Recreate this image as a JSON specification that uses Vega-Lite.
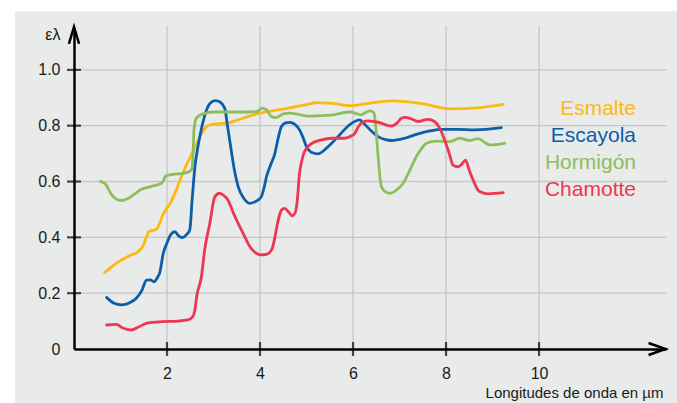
{
  "$schema": "https://vega.github.io/schema/vega-lite/v6.json",
  "width": 592,
  "height": 321,
  "autosize": {"type": "none"},
  "padding": {"left": 74, "top": 28, "right": 11, "bottom": 54},
  "background": "white",
  "config": {
    "view": {"stroke": null},
    "font": "Liberation Sans",
    "axis": {"labelFont": "Liberation Sans", "titleFont": "Liberation Sans"}
  },
  "datasets": {
    "one": [{}],
    "curves": [
      {"series":"Esmalte","x":0.66,"y":0.274},{"series":"Esmalte","x":0.85,"y":0.30},{"series":"Esmalte","x":1.02,"y":0.319},{"series":"Esmalte","x":1.20,"y":0.335},{"series":"Esmalte","x":1.38,"y":0.349},{"series":"Esmalte","x":1.50,"y":0.375},{"series":"Esmalte","x":1.56,"y":0.403},{"series":"Esmalte","x":1.61,"y":0.42},{"series":"Esmalte","x":1.70,"y":0.425},{"series":"Esmalte","x":1.77,"y":0.429},{"series":"Esmalte","x":1.84,"y":0.45},{"series":"Esmalte","x":1.91,"y":0.48},{"series":"Esmalte","x":2.09,"y":0.528},{"series":"Esmalte","x":2.20,"y":0.57},{"series":"Esmalte","x":2.31,"y":0.618},{"series":"Esmalte","x":2.42,"y":0.66},{"series":"Esmalte","x":2.52,"y":0.695},{"series":"Esmalte","x":2.65,"y":0.74},{"series":"Esmalte","x":2.77,"y":0.779},{"series":"Esmalte","x":2.88,"y":0.80},{"series":"Esmalte","x":2.99,"y":0.806},{"series":"Esmalte","x":3.28,"y":0.809},{"series":"Esmalte","x":3.60,"y":0.825},{"series":"Esmalte","x":3.99,"y":0.845},{"series":"Esmalte","x":4.49,"y":0.859},{"series":"Esmalte","x":5.07,"y":0.878},{"series":"Esmalte","x":5.21,"y":0.883},{"series":"Esmalte","x":5.55,"y":0.880},{"series":"Esmalte","x":5.93,"y":0.872},{"series":"Esmalte","x":6.40,"y":0.882},{"series":"Esmalte","x":6.86,"y":0.889},{"series":"Esmalte","x":7.51,"y":0.878},{"series":"Esmalte","x":8.08,"y":0.860},{"series":"Esmalte","x":8.80,"y":0.866},{"series":"Esmalte","x":9.23,"y":0.876},
      {"series":"Escayola","x":0.70,"y":0.185},{"series":"Escayola","x":0.85,"y":0.165},{"series":"Escayola","x":1.02,"y":0.158},{"series":"Escayola","x":1.20,"y":0.166},{"series":"Escayola","x":1.34,"y":0.182},{"series":"Escayola","x":1.46,"y":0.21},{"series":"Escayola","x":1.56,"y":0.247},{"series":"Escayola","x":1.64,"y":0.248},{"series":"Escayola","x":1.72,"y":0.241},{"series":"Escayola","x":1.80,"y":0.258},{"series":"Escayola","x":1.84,"y":0.271},{"series":"Escayola","x":1.92,"y":0.343},{"series":"Escayola","x":2.00,"y":0.38},{"series":"Escayola","x":2.08,"y":0.41},{"series":"Escayola","x":2.17,"y":0.42},{"series":"Escayola","x":2.25,"y":0.405},{"series":"Escayola","x":2.32,"y":0.399},{"series":"Escayola","x":2.42,"y":0.41},{"series":"Escayola","x":2.49,"y":0.427},{"series":"Escayola","x":2.54,"y":0.534},{"series":"Escayola","x":2.60,"y":0.653},{"series":"Escayola","x":2.66,"y":0.72},{"series":"Escayola","x":2.72,"y":0.773},{"series":"Escayola","x":2.80,"y":0.83},{"series":"Escayola","x":2.88,"y":0.868},{"series":"Escayola","x":2.96,"y":0.885},{"series":"Escayola","x":3.04,"y":0.89},{"series":"Escayola","x":3.14,"y":0.885},{"series":"Escayola","x":3.24,"y":0.863},{"series":"Escayola","x":3.30,"y":0.80},{"series":"Escayola","x":3.38,"y":0.713},{"series":"Escayola","x":3.45,"y":0.64},{"series":"Escayola","x":3.53,"y":0.582},{"series":"Escayola","x":3.65,"y":0.54},{"series":"Escayola","x":3.78,"y":0.522},{"series":"Escayola","x":3.92,"y":0.53},{"series":"Escayola","x":4.03,"y":0.546},{"series":"Escayola","x":4.09,"y":0.58},{"series":"Escayola","x":4.14,"y":0.618},{"series":"Escayola","x":4.23,"y":0.66},{"series":"Escayola","x":4.32,"y":0.701},{"series":"Escayola","x":4.39,"y":0.755},{"series":"Escayola","x":4.46,"y":0.797},{"series":"Escayola","x":4.55,"y":0.81},{"series":"Escayola","x":4.64,"y":0.812},{"series":"Escayola","x":4.75,"y":0.805},{"series":"Escayola","x":4.85,"y":0.785},{"series":"Escayola","x":4.92,"y":0.76},{"series":"Escayola","x":5.00,"y":0.725},{"series":"Escayola","x":5.10,"y":0.705},{"series":"Escayola","x":5.25,"y":0.699},{"series":"Escayola","x":5.40,"y":0.715},{"series":"Escayola","x":5.54,"y":0.737},{"series":"Escayola","x":5.70,"y":0.765},{"series":"Escayola","x":5.85,"y":0.792},{"series":"Escayola","x":6.00,"y":0.812},{"series":"Escayola","x":6.14,"y":0.821},{"series":"Escayola","x":6.25,"y":0.805},{"series":"Escayola","x":6.40,"y":0.78},{"series":"Escayola","x":6.54,"y":0.761},{"series":"Escayola","x":6.70,"y":0.75},{"series":"Escayola","x":6.83,"y":0.747},{"series":"Escayola","x":7.11,"y":0.755},{"series":"Escayola","x":7.40,"y":0.771},{"series":"Escayola","x":7.65,"y":0.781},{"series":"Escayola","x":7.90,"y":0.787},{"series":"Escayola","x":8.25,"y":0.787},{"series":"Escayola","x":8.62,"y":0.785},{"series":"Escayola","x":9.19,"y":0.793},
      {"series":"Hormigón","x":0.57,"y":0.600},{"series":"Hormigón","x":0.68,"y":0.59},{"series":"Hormigón","x":0.80,"y":0.555},{"series":"Hormigón","x":0.90,"y":0.538},{"series":"Hormigón","x":1.02,"y":0.532},{"series":"Hormigón","x":1.15,"y":0.538},{"series":"Hormigón","x":1.30,"y":0.555},{"series":"Hormigón","x":1.45,"y":0.572},{"series":"Hormigón","x":1.65,"y":0.582},{"series":"Hormigón","x":1.88,"y":0.594},{"series":"Hormigón","x":1.93,"y":0.605},{"series":"Hormigón","x":1.97,"y":0.620},{"series":"Hormigón","x":2.10,"y":0.625},{"series":"Hormigón","x":2.38,"y":0.630},{"series":"Hormigón","x":2.50,"y":0.638},{"series":"Hormigón","x":2.54,"y":0.648},{"series":"Hormigón","x":2.56,"y":0.70},{"series":"Hormigón","x":2.58,"y":0.785},{"series":"Hormigón","x":2.63,"y":0.827},{"series":"Hormigón","x":2.77,"y":0.842},{"series":"Hormigón","x":3.00,"y":0.849},{"series":"Hormigón","x":3.50,"y":0.849},{"series":"Hormigón","x":3.92,"y":0.850},{"series":"Hormigón","x":4.05,"y":0.863},{"series":"Hormigón","x":4.15,"y":0.855},{"series":"Hormigón","x":4.25,"y":0.832},{"series":"Hormigón","x":4.35,"y":0.829},{"series":"Hormigón","x":4.50,"y":0.842},{"series":"Hormigón","x":4.64,"y":0.845},{"series":"Hormigón","x":5.07,"y":0.834},{"series":"Hormigón","x":5.21,"y":0.835},{"series":"Hormigón","x":5.60,"y":0.840},{"series":"Hormigón","x":5.93,"y":0.849},{"series":"Hormigón","x":6.18,"y":0.839},{"series":"Hormigón","x":6.30,"y":0.85},{"series":"Hormigón","x":6.38,"y":0.853},{"series":"Hormigón","x":6.45,"y":0.845},{"series":"Hormigón","x":6.50,"y":0.773},{"series":"Hormigón","x":6.54,"y":0.689},{"series":"Hormigón","x":6.61,"y":0.582},{"series":"Hormigón","x":6.70,"y":0.563},{"series":"Hormigón","x":6.80,"y":0.558},{"series":"Hormigón","x":6.95,"y":0.572},{"series":"Hormigón","x":7.08,"y":0.594},{"series":"Hormigón","x":7.22,"y":0.64},{"series":"Hormigón","x":7.36,"y":0.689},{"series":"Hormigón","x":7.48,"y":0.72},{"series":"Hormigón","x":7.58,"y":0.737},{"series":"Hormigón","x":7.79,"y":0.745},{"series":"Hormigón","x":8.08,"y":0.743},{"series":"Hormigón","x":8.29,"y":0.755},{"series":"Hormigón","x":8.51,"y":0.747},{"series":"Hormigón","x":8.69,"y":0.754},{"series":"Hormigón","x":8.85,"y":0.738},{"series":"Hormigón","x":8.94,"y":0.731},{"series":"Hormigón","x":9.26,"y":0.737},
      {"series":"Chamotte","x":0.70,"y":0.086},{"series":"Chamotte","x":0.91,"y":0.088},{"series":"Chamotte","x":1.05,"y":0.075},{"series":"Chamotte","x":1.23,"y":0.068},{"series":"Chamotte","x":1.40,"y":0.080},{"series":"Chamotte","x":1.59,"y":0.094},{"series":"Chamotte","x":1.90,"y":0.098},{"series":"Chamotte","x":2.24,"y":0.10},{"series":"Chamotte","x":2.45,"y":0.104},{"series":"Chamotte","x":2.55,"y":0.115},{"series":"Chamotte","x":2.60,"y":0.14},{"series":"Chamotte","x":2.64,"y":0.19},{"series":"Chamotte","x":2.74,"y":0.259},{"series":"Chamotte","x":2.81,"y":0.355},{"series":"Chamotte","x":2.92,"y":0.45},{"series":"Chamotte","x":3.03,"y":0.546},{"series":"Chamotte","x":3.13,"y":0.558},{"series":"Chamotte","x":3.22,"y":0.55},{"series":"Chamotte","x":3.31,"y":0.534},{"series":"Chamotte","x":3.42,"y":0.49},{"series":"Chamotte","x":3.53,"y":0.45},{"series":"Chamotte","x":3.65,"y":0.41},{"series":"Chamotte","x":3.78,"y":0.367},{"series":"Chamotte","x":3.90,"y":0.345},{"series":"Chamotte","x":4.03,"y":0.337},{"series":"Chamotte","x":4.15,"y":0.34},{"series":"Chamotte","x":4.25,"y":0.355},{"series":"Chamotte","x":4.32,"y":0.40},{"series":"Chamotte","x":4.35,"y":0.427},{"series":"Chamotte","x":4.42,"y":0.48},{"series":"Chamotte","x":4.46,"y":0.498},{"series":"Chamotte","x":4.53,"y":0.504},{"series":"Chamotte","x":4.62,"y":0.49},{"series":"Chamotte","x":4.69,"y":0.477},{"series":"Chamotte","x":4.76,"y":0.49},{"series":"Chamotte","x":4.80,"y":0.53},{"series":"Chamotte","x":4.85,"y":0.63},{"series":"Chamotte","x":4.89,"y":0.668},{"series":"Chamotte","x":4.95,"y":0.705},{"series":"Chamotte","x":5.00,"y":0.719},{"series":"Chamotte","x":5.10,"y":0.735},{"series":"Chamotte","x":5.32,"y":0.749},{"series":"Chamotte","x":5.55,"y":0.755},{"series":"Chamotte","x":5.82,"y":0.755},{"series":"Chamotte","x":5.95,"y":0.762},{"series":"Chamotte","x":6.04,"y":0.773},{"series":"Chamotte","x":6.12,"y":0.798},{"series":"Chamotte","x":6.18,"y":0.809},{"series":"Chamotte","x":6.32,"y":0.817},{"series":"Chamotte","x":6.45,"y":0.815},{"series":"Chamotte","x":6.61,"y":0.809},{"series":"Chamotte","x":6.75,"y":0.80},{"series":"Chamotte","x":6.83,"y":0.799},{"series":"Chamotte","x":6.95,"y":0.81},{"series":"Chamotte","x":7.04,"y":0.827},{"series":"Chamotte","x":7.12,"y":0.83},{"series":"Chamotte","x":7.25,"y":0.825},{"series":"Chamotte","x":7.40,"y":0.815},{"series":"Chamotte","x":7.61,"y":0.823},{"series":"Chamotte","x":7.75,"y":0.815},{"series":"Chamotte","x":7.85,"y":0.795},{"series":"Chamotte","x":7.97,"y":0.749},{"series":"Chamotte","x":8.07,"y":0.70},{"series":"Chamotte","x":8.15,"y":0.659},{"series":"Chamotte","x":8.26,"y":0.653},{"series":"Chamotte","x":8.34,"y":0.662},{"series":"Chamotte","x":8.42,"y":0.677},{"series":"Chamotte","x":8.50,"y":0.64},{"series":"Chamotte","x":8.58,"y":0.606},{"series":"Chamotte","x":8.72,"y":0.564},{"series":"Chamotte","x":8.90,"y":0.556},{"series":"Chamotte","x":9.23,"y":0.560}
    ],
    "xgrid": [{"v":2},{"v":4},{"v":6},{"v":8},{"v":10}],
    "ygrid": [{"v":0.2},{"v":0.4},{"v":0.6},{"v":0.8},{"v":1.0}]
  },
  "layer": [
    {
      "data": {"name": "one"},
      "mark": {"type": "rect", "color": "#e9eaea"},
      "encoding": {
        "x": {
          "datum": -1.27, "type": "quantitative", "scale": {"domain": [0, 12.73], "nice": false, "zero": false},
          "axis": {
            "values": [2, 4, 6, 8, 10], "grid": false, "ticks": false, "zindex": 1,
            "domainColor": "black", "domainWidth": 2.5,
            "labelFontSize": 16, "labelColor": "#1a1a1a", "labelPadding": 16, "labelFlush": false,
            "title": "Longitudes de onda en µm", "titleFontSize": 15, "titleFontWeight": "normal", "titleColor": "#1a1a1a",
            "titleAlign": "right", "titleBaseline": "alphabetic", "titleX": 589, "titleY": 48
          }
        },
        "x2": {"datum": 13.2},
        "y": {
          "datum": -0.2, "type": "quantitative", "scale": {"domain": [0, 1.15], "nice": false, "zero": false},
          "axis": {
            "values": [0, 0.2, 0.4, 0.6, 0.8, 1.0], "grid": false, "ticks": false, "zindex": 1,
            "domainColor": "black", "domainWidth": 2.5,
            "labelExpr": "datum.value == 0 ? '0' : format(datum.value, '.1f')",
            "labelFontSize": 16, "labelColor": "#1a1a1a", "labelPadding": 14, "labelFlush": false,
            "title": "ελ", "titleFontSize": 16, "titleFontWeight": "normal", "titleColor": "#1a1a1a", "titleAngle": 0,
            "titleAlign": "right", "titleBaseline": "middle", "titleX": -14, "titleY": 6
          }
        },
        "y2": {"datum": 1.21}
      }
    },
    {
      "data": {"name": "xgrid"},
      "mark": {"type": "rule", "color": "#c6c6c6", "strokeWidth": 1.3},
      "encoding": {
        "x": {"field": "v", "type": "quantitative"},
        "y": {"datum": 0, "type": "quantitative"},
        "y2": {"datum": 1.158}
      }
    },
    {
      "data": {"name": "ygrid"},
      "mark": {"type": "rule", "color": "#c6c6c6", "strokeWidth": 1.3},
      "encoding": {
        "y": {"field": "v", "type": "quantitative"},
        "x": {"datum": 0, "type": "quantitative"},
        "x2": {"datum": 12.75}
      }
    },
    {
      "data": {"name": "curves"},
      "mark": {"type": "line", "interpolate": "monotone", "strokeWidth": 2.8, "strokeCap": "round"},
      "encoding": {
        "x": {"field": "x", "type": "quantitative"},
        "y": {"field": "y", "type": "quantitative"},
        "color": {
          "field": "series", "type": "nominal",
          "scale": {"domain": ["Esmalte", "Escayola", "Hormigón", "Chamotte"], "range": ["#fdb913", "#0b5ea8", "#8dbe5c", "#ee3650"]},
          "legend": {
            "orient": "none", "legendX": 541, "legendY": 70, "title": null,
            "symbolSize": 0, "symbolStrokeWidth": 0, "symbolOpacity": 0,
            "labelFontSize": 21, "labelAlign": "right", "labelOffset": 0, "rowPadding": 5, "padding": 0, "labelLimit": 0,
            "encode": {"labels": {"update": {"fill": {"scale": "color", "field": "value"}}}}
          }
        }
      }
    },
    {
      "data": {"name": "ygrid"},
      "mark": {"type": "tick", "orient": "horizontal", "color": "black", "size": 14, "thickness": 2.2},
      "encoding": {
        "y": {"field": "v", "type": "quantitative"},
        "x": {"datum": 0, "type": "quantitative"}
      }
    },
    {
      "data": {"name": "xgrid"},
      "mark": {"type": "tick", "orient": "vertical", "color": "black", "size": 14, "thickness": 2.2},
      "encoding": {
        "x": {"field": "v", "type": "quantitative"},
        "y": {"datum": 0, "type": "quantitative"}
      }
    },
    {
      "data": {"name": "one"},
      "mark": {"type": "point", "shape": "M-0.3,1L0,0L0.3,1", "size": 1156, "filled": false, "stroke": "black", "strokeWidth": 2.5, "opacity": 1},
      "encoding": {
        "x": {"datum": 0, "type": "quantitative"},
        "y": {"datum": 1.154, "type": "quantitative"}
      }
    },
    {
      "data": {"name": "one"},
      "mark": {"type": "point", "shape": "M-1,-0.35L0,0L-1,0.35", "size": 1156, "filled": false, "stroke": "black", "strokeWidth": 2.5, "opacity": 1},
      "encoding": {
        "x": {"datum": 12.72, "type": "quantitative"},
        "y": {"datum": 0, "type": "quantitative"}
      }
    }
  ]
}
